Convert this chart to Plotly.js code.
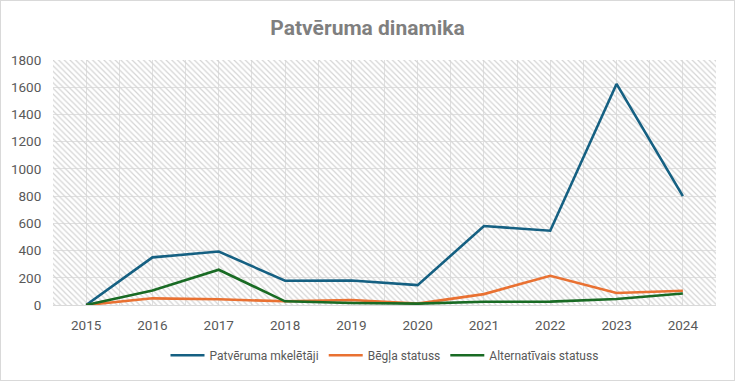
<!DOCTYPE html>
<html><head><meta charset="utf-8">
<script src="https://cdn.plot.ly/plotly-3.0.1.min.js"></script>
<style>
html,body{margin:0;padding:0;background:#fff;}
#wrap{width:735px;height:381px;box-sizing:border-box;border:1px solid #d9d9d9;}
#chart{width:733px;height:379px;}
</style></head>
<body><div id="wrap"><div id="chart"></div></div>
<script>
const years = [2015,2016,2017,2018,2019,2020,2021,2022,2023,2024];
const patveruma = [0,350,393,178,180,146,580,546,1624,800];
const beglaStatuss = [0,49,42,27,37,10,80,215,88,105];
const alternativais = [0,107,259,27,15,10,24,25,44,85];
const seriesNames = ["Patvēruma mkelētāji","Bēgļa statuss","Alternatīvais statuss"];
const yMax = 1800;

const font = "Roboto, 'Open Sans', sans-serif";
const bg = {
  type:'bar', x: years, y: years.map(()=>yMax), width:1,
  marker:{color:'rgba(0,0,0,0)', line:{width:0},
    pattern:{shape:'\\', fgcolor:'#d4d4d4', bgcolor:'rgba(0,0,0,0)', size:4, solidity:0.3, fillmode:'replace'}},
  hoverinfo:'skip', showlegend:false
};
function line(y,name,color){
  return {type:'scatter', mode:'lines', x:years, y:y, name:name,
    line:{color:color, width:2.6}};
}
const data = [bg,
  line(patveruma, seriesNames[0], '#156082'),
  line(beglaStatuss, seriesNames[1], '#E97132'),
  line(alternativais, seriesNames[2], '#196B24')];

const layout = {
  width:733, height:379,
  margin:{l:52,r:18,t:59,b:74},
  paper_bgcolor:'#fff', plot_bgcolor:'#fff',
  font:{family:font, color:'#595959', size:12},
  title:{text:'<b>Patvēruma dinamika</b>', x:0.5, xanchor:'center', y:0.93, yanchor:'middle',
    font:{family:"Roboto, sans-serif", size:21, color:'#7f7f7f'}},
  bargap:0,
  xaxis:{range:[2014.5,2024.5], tickvals:years, ticktext:years.map(String),
    showgrid:false, zeroline:false, showline:false,
    ticks:'outside', ticklen:8, tickcolor:'rgba(0,0,0,0)',
    minor:{dtick:0.5, tick0:2014.5, showgrid:true, gridcolor:'#e0e0e0', gridwidth:1},
    tickfont:{size:13.5, color:'#595959'}, fixedrange:true},
  yaxis:{range:[0,yMax], dtick:200, showgrid:true, gridcolor:'#e0e0e0', gridwidth:1,
    zeroline:true, zerolinecolor:'#d9d9d9', showline:false,
    ticks:'outside', ticklen:8, tickcolor:'rgba(0,0,0,0)',
    tickfont:{size:13.5, color:'#595959'}},
  legend:{orientation:'h', x:0.5, xanchor:'center', y:-0.2, yanchor:'middle',
    font:{size:12, color:'#595959'}, itemwidth:34, traceorder:'normal'},
  showlegend:true
};
Plotly.newPlot('chart', data, layout, {displayModeBar:false, staticPlot:true});
</script></body></html>
